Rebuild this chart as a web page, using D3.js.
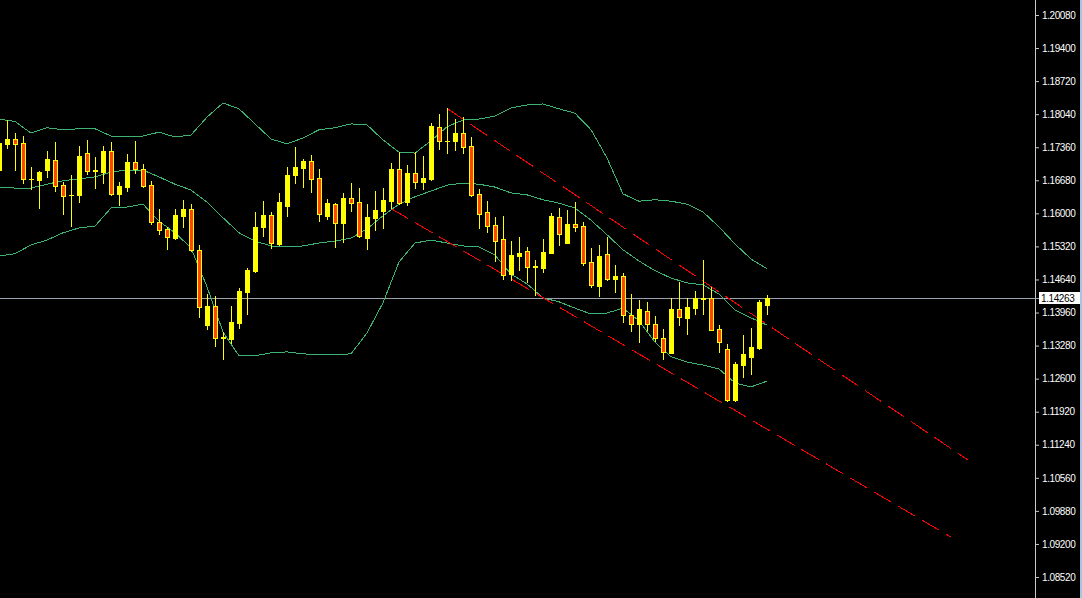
<!DOCTYPE html>
<html><head><meta charset="utf-8">
<script src="https://cdn.jsdelivr.net/npm/d3@7"></script>
<style>html,body{margin:0;padding:0;background:#000;overflow:hidden}</style>
</head><body>
<svg id="c" width="1082" height="598"></svg>
<script>
// ---- DATA ----
const opens  = [1.1689,1.1743,1.1752,1.1744,1.1670,1.1669,1.1690,1.1710,1.1658,1.1637,
                1.1638,1.1724,1.1688,1.1686,1.1728,1.1640,1.1655,1.1705,1.1691,1.1658,
                1.1582,1.1567,1.1549,1.1595,1.1608,1.1524,1.1371,1.1409,1.1344,1.1342,
                1.1375,1.1438,1.1481,1.1571,1.1597,1.1537,1.1616,1.1678,1.1693,1.1708,
                1.1672,1.1595,1.1619,1.1581,1.1632,1.1623,1.1550,1.1591,1.1605,1.1626,
                1.1691,1.1624,1.1683,1.1665,1.1671,1.1778,1.1748,1.1748,1.1765,1.1739,
                1.1640,1.1603,1.1576,1.1547,1.1476,1.1512,1.1523,1.1490,1.1488,1.1519,
                1.1593,1.1540,1.1578,1.1574,1.1500,1.1451,1.1516,1.1464,1.1471,1.1391,
                1.1373,1.1399,1.1373,1.1344,1.1313,1.1403,1.1385,1.1406,1.1424,1.1426,
                1.1362,1.1321,1.1217,1.1289,1.1305,1.1323,1.1412];
const highs  = [1.1749,1.1792,1.1765,1.1759,1.1696,1.1687,1.1728,1.1747,1.1665,1.1679,
                1.1739,1.1751,1.1716,1.1739,1.1746,1.1665,1.1722,1.1749,1.1702,1.1667,
                1.1609,1.1571,1.1609,1.1628,1.1619,1.1534,1.1434,1.1430,1.1355,1.1409,
                1.1446,1.1488,1.1603,1.1625,1.1603,1.1642,1.1695,1.1737,1.1712,1.1720,
                1.1691,1.1630,1.1621,1.1642,1.1662,1.1652,1.1619,1.1646,1.1652,1.1704,
                1.1726,1.1699,1.1726,1.1718,1.1786,1.1804,1.1816,1.1794,1.1798,1.1757,
                1.1651,1.1625,1.1593,1.1595,1.1543,1.1551,1.1531,1.1504,1.1547,1.1601,
                1.1611,1.1607,1.1623,1.1582,1.1529,1.1535,1.1551,1.1494,1.1477,1.1435,
                1.1422,1.1418,1.1389,1.1362,1.1426,1.1459,1.1426,1.1441,1.1504,1.1449,
                1.1370,1.1331,1.1294,1.1350,1.1364,1.1422,1.1432];
const lows   = [1.1687,1.1735,1.1689,1.1663,1.1650,1.1612,1.1675,1.1647,1.1599,1.1573,
                1.1624,1.1681,1.1653,1.1662,1.1638,1.1617,1.1647,1.1684,1.1655,1.1579,
                1.1558,1.1527,1.1547,1.1571,1.1523,1.1387,1.1362,1.1328,1.1300,1.1334,
                1.1365,1.1394,1.1480,1.1554,1.1529,1.1535,1.1595,1.1663,1.1654,1.1643,
                1.1585,1.1588,1.1531,1.1542,1.1605,1.1551,1.1527,1.1566,1.1570,1.1610,
                1.1620,1.1618,1.1653,1.1651,1.1669,1.1733,1.1725,1.1731,1.1725,1.1636,
                1.1569,1.1562,1.1503,1.1464,1.1462,1.1484,1.1459,1.1433,1.1480,1.1518,
                1.1534,1.1538,1.1564,1.1494,1.1449,1.1431,1.1463,1.1439,1.1377,1.1357,
                1.1336,1.1360,1.1338,1.1301,1.1312,1.1371,1.1352,1.1392,1.1393,1.1360,
                1.1315,1.1215,1.1215,1.1264,1.1270,1.1321,1.1393];
const closes = [1.1745,1.1753,1.1743,1.1670,1.1671,1.1685,1.1712,1.1657,1.1636,1.1638,
                1.1718,1.1688,1.1689,1.1728,1.1640,1.1656,1.1705,1.1691,1.1657,1.1582,
                1.1565,1.1551,1.1597,1.1609,1.1524,1.1408,1.1409,1.1343,1.1345,1.1377,
                1.1440,1.1484,1.1572,1.1597,1.1538,1.1623,1.1679,1.1695,1.1708,1.1671,
                1.1599,1.1621,1.1581,1.1632,1.1622,1.1553,1.1593,1.1607,1.1628,1.1691,
                1.1622,1.1683,1.1665,1.1673,1.1780,1.1749,1.1749,1.1765,1.1737,1.1638,
                1.1599,1.1575,1.1544,1.1474,1.1514,1.1519,1.1490,1.1491,1.1521,1.1595,
                1.1558,1.1578,1.1572,1.1497,1.1452,1.1512,1.1464,1.1471,1.1390,1.1373,
                1.1403,1.1372,1.1343,1.1314,1.1403,1.1386,1.1407,1.1426,1.1425,1.1361,
                1.1335,1.1217,1.1290,1.1311,1.1325,1.1418,1.14263];

// Bollinger band readings (bar index, price)
const bandIndex  = [0,2,4,6,8,10,12,14,16,18,20,22,24,26,28,30,32,34,36,38,40,42,44,46,48,
                    50,52,54,56,58,60,62,64,66,68,70,72,74,76,78,80,82,84,86,88,90,92,94,96];
const bandUpper  = [1.1794,1.1789,1.1765,1.1776,1.1772,1.1774,1.1774,1.1759,1.1759,1.1759,
                    1.1767,1.1757,1.1761,1.1798,1.1827,1.1815,1.1784,1.1753,1.1743,1.1755,
                    1.1772,1.1776,1.1784,1.1782,1.1751,1.1726,1.1724,1.1749,1.1778,1.1792,
                    1.1794,1.1800,1.1817,1.1823,1.1825,1.1815,1.1806,1.1772,1.1714,1.1640,
                    1.1625,1.1628,1.1625,1.1619,1.1603,1.1572,1.1537,1.1506,1.1486];
const bandMiddle = [1.1654,1.1652,1.1652,1.1660,1.1667,1.1671,1.1675,1.1685,1.1689,1.1689,
                    1.1675,1.1660,1.1648,1.1623,1.1591,1.1560,1.1543,1.1533,1.1531,1.1533,
                    1.1539,1.1543,1.1549,1.1568,1.1595,1.1619,1.1634,1.1646,1.1658,1.1662,
                    1.1660,1.1654,1.1642,1.1638,1.1628,1.1621,1.1611,1.1586,1.1556,1.1525,
                    1.1502,1.1482,1.1467,1.1457,1.1453,1.1434,1.1401,1.1385,1.1370];
const bandLower  = [1.1512,1.1517,1.1535,1.1545,1.1560,1.1570,1.1574,1.1611,1.1613,1.1619,
                    1.1584,1.1560,1.1529,1.1449,1.1356,1.1307,1.1307,1.1313,1.1315,1.1311,
                    1.1309,1.1309,1.1311,1.1354,1.1416,1.1500,1.1539,1.1545,1.1539,1.1533,
                    1.1531,1.1514,1.1475,1.1455,1.1426,1.1418,1.1405,1.1393,1.1395,1.1405,
                    1.1379,1.1335,1.1305,1.1294,1.1288,1.1280,1.1251,1.1243,1.1255];

// Trend lines: [bar index, price] anchors
const trendUpper = [[56, 1.1816], [121.1, 1.1093]];
const trendLower = [[49, 1.1610], [119, 1.0934]];

const tickLabels = ["1.20080","1.19400","1.18720","1.18040","1.17360","1.16680","1.16000",
                    "1.15320","1.14640","1.13960","1.13280","1.12600","1.11920","1.11240",
                    "1.10560","1.09880","1.09200","1.08520"];
const lastPrice = 1.14263;

// ---- DRAW ----
const W = 1082, H = 598, axisX = 1035;
const svg = d3.select('#c');
svg.append('rect').attr('width', W).attr('height', H).attr('fill', '#000');

const x = d3.scaleLinear().domain([0, 96]).range([-1, 767]);
const y = d3.scaleLinear().domain([1.08520, 1.20080]).range([577, 15]);

svg.append('defs').append('clipPath').attr('id', 'clip')
  .append('rect').attr('x', 0).attr('y', 0).attr('width', axisX).attr('height', H);
const g = svg.append('g').attr('clip-path', 'url(#clip)');

// current price line
g.append('line')
  .attr('x1', 0).attr('x2', axisX)
  .attr('y1', Math.round(y(lastPrice)) + 0.5).attr('y2', Math.round(y(lastPrice)) + 0.5)
  .attr('stroke', '#9aa3ad').attr('stroke-width', 1);

// bands
const bandLine = d3.line().x(d => x(d[0])).y(d => y(d[1]));
[bandUpper, bandMiddle, bandLower].forEach(arr => {
  g.append('path')
    .datum(bandIndex.map((b, k) => [b, arr[k]]))
    .attr('d', bandLine)
    .attr('fill', 'none')
    .attr('stroke', '#3cb371')
    .attr('stroke-width', 1)
    .attr('shape-rendering', 'crispEdges');
});

// trend lines
[trendUpper, trendLower].forEach(t => {
  g.append('path')
    .datum(t)
    .attr('d', bandLine)
    .attr('fill', 'none')
    .attr('stroke', '#ff0000')
    .attr('stroke-width', 1)
    .attr('stroke-dasharray', '20,8')
    .attr('shape-rendering', 'crispEdges');
});

// candles
const idx = d3.range(opens.length);
const cx = i => Math.round(x(i));
g.selectAll('rect.wick').data(idx).join('rect').attr('class', 'wick')
  .attr('x', i => cx(i))
  .attr('y', i => Math.round(y(highs[i])))
  .attr('width', 1)
  .attr('height', i => Math.round(y(lows[i])) - Math.round(y(highs[i])) + 1)
  .attr('fill', '#ffff00');

const bodyTop = i => Math.min(Math.round(y(opens[i])), Math.round(y(closes[i])));
const bodyH = i => Math.abs(Math.round(y(opens[i])) - Math.round(y(closes[i]))) + 1;
g.selectAll('rect.body').data(idx).join('rect').attr('class', 'body')
  .attr('x', i => cx(i) - 2)
  .attr('y', bodyTop)
  .attr('width', 5)
  .attr('height', bodyH)
  .attr('fill', '#ffff00');
g.selectAll('rect.bear').data(idx.filter(i => closes[i] < opens[i] && bodyH(i) > 2)).join('rect')
  .attr('class', 'bear')
  .attr('x', i => cx(i) - 1)
  .attr('y', i => bodyTop(i) + 1)
  .attr('width', 3)
  .attr('height', i => bodyH(i) - 2)
  .attr('fill', '#ff4500');

// axis
svg.append('line').attr('x1', axisX + 0.5).attr('x2', axisX + 0.5).attr('y1', 0).attr('y2', H)
  .attr('stroke', '#c8c8c8');
const ax = svg.append('g').attr('transform', `translate(${axisX + 1},0)`)
  .call(d3.axisRight(y)
    .tickValues(tickLabels.map(Number))
    .tickFormat((d, k) => tickLabels[k])
    .tickSize(3).tickSizeOuter(0).tickPadding(3));
ax.select('.domain').remove();
ax.selectAll('line').attr('stroke', '#c8c8c8');
ax.selectAll('text').attr('fill', '#ffffff')
  .style('font-family', '"Liberation Sans", Arial, sans-serif')
  .style('font-size', '10px').style('letter-spacing', '-0.4px');

// price label
const py = Math.round(y(lastPrice));
svg.append('line').attr('x1', axisX).attr('x2', axisX + 5).attr('y1', py + 0.5).attr('y2', py + 0.5)
  .attr('stroke', '#9aa3ad');
svg.append('rect').attr('x', axisX + 4).attr('y', py - 6).attr('width', 41).attr('height', 12)
  .attr('fill', '#ffffff');
svg.append('text').attr('x', axisX + 6).attr('y', py).attr('dy', '0.35em')
  .attr('fill', '#000')
  .style('font-family', '"Liberation Sans", Arial, sans-serif')
  .style('font-size', '10px').style('letter-spacing', '-0.4px')
  .text(lastPrice.toFixed(5));

// right border
svg.append('rect').attr('x', 1080).attr('y', 0).attr('width', 2).attr('height', H).attr('fill', '#a9c3e0');
</script>
</body></html>
